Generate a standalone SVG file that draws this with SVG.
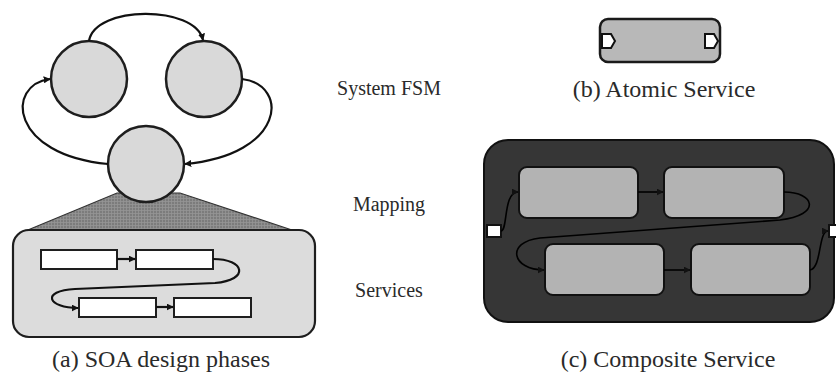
<svg xmlns="http://www.w3.org/2000/svg" width="836" height="379" viewBox="0 0 836 379">
  <style>
    .state { fill: #d9d9d9; stroke: #1e1e1e; stroke-width: 2.5; }
    .panel { fill: #dcdcdc; stroke: #1e1e1e; stroke-width: 2.2; }
    .svc { fill: #ffffff; stroke: #1e1e1e; stroke-width: 2; }
    .inner { fill: #b3b3b3; stroke: #111111; stroke-width: 2; }
    .atomic { fill: #b8b8b8; stroke: #1a1a1a; stroke-width: 2.5; }
    .port { fill: #ffffff; stroke: #111111; stroke-width: 2; }
    .edge { fill: none; stroke: #111111; stroke-width: 2.2; }
    .edge-thin { fill: none; stroke: #000000; stroke-width: 1.6; }
    .label { font-family: "Liberation Serif", "Times New Roman", serif; font-size: 20px; fill: #2a2a2a; text-anchor: middle; }
    .caption { font-family: "Liberation Serif", "Times New Roman", serif; font-size: 24px; fill: #2a2a2a; text-anchor: middle; }
  </style>
  <defs>
    <marker id="arrow" viewBox="0 0 10 10" refX="9" refY="5" markerWidth="7" markerHeight="7" markerUnits="userSpaceOnUse" orient="auto">
      <path d="M0,0 L10,5 L0,10 Z" fill="#111111"/>
    </marker>
    <pattern id="hatch" width="3" height="3" patternUnits="userSpaceOnUse">
      <rect width="3" height="3" fill="#7c7c7c"/>
      <path d="M0,0.5 H3 M0.5,0 V3" stroke="#959595" stroke-width="0.8"/>
    </pattern>
  </defs>

  <!-- mapping wedge between FSM state and services panel -->
  <g id="mapping-wedge">
    <polygon points="23,232 117,193 180,193 298,232" fill="url(#hatch)" stroke="#333333" stroke-width="1.2"/>
  </g>

  <!-- services panel -->
  <g id="services-panel">
    <rect class="panel" x="13" y="230" width="302" height="107" rx="16"/>
  </g>
  <g id="svc1"><rect class="svc" x="41" y="250" width="76" height="19"/></g>
  <g id="svc2"><rect class="svc" x="136" y="250" width="77" height="19"/></g>
  <g id="svc3"><rect class="svc" x="79" y="298" width="77" height="19"/></g>
  <g id="svc4"><rect class="svc" x="174" y="298" width="77" height="19"/></g>

  <!-- FSM states -->
  <g id="state-left"><circle class="state" cx="89" cy="79" r="38"/></g>
  <g id="state-right"><circle class="state" cx="204" cy="79" r="38"/></g>
  <g id="state-bottom"><circle class="state" cx="146" cy="164" r="38"/></g>

  <!-- atomic service -->
  <g id="atomic-service">
    <rect class="atomic" x="600" y="19" width="120" height="43" rx="8"/>
    <polygon class="port" points="602,34 611,34 615,41 611,48 602,48"/>
    <polygon class="port" points="705,34 714,34 718,41 714,48 705,48" stroke-width="2.5"/>
  </g>

  <!-- composite service -->
  <g id="composite-service">
    <rect x="484" y="140" width="350" height="182" rx="24" fill="#363636" stroke="#111111" stroke-width="2"/>
    <rect class="port" x="487" y="225" width="14" height="12" stroke-width="1"/>
    <rect class="port" x="829" y="225" width="12" height="12" stroke-width="1"/>
  </g>
  <g id="comp1"><rect class="inner" x="519" y="167" width="119" height="51" rx="8"/></g>
  <g id="comp2"><rect class="inner" x="664" y="167" width="120" height="51" rx="8"/></g>
  <g id="comp3"><rect class="inner" x="545" y="244" width="119" height="51" rx="8"/></g>
  <g id="comp4"><rect class="inner" x="691" y="244" width="119" height="51" rx="8"/></g>

  <!-- connectors -->
  <g id="connectors">
    <!-- FSM transitions -->
    <path class="edge" d="M89,41 C95,5 195,5 203,40" marker-end="url(#arrow)"/>
    <path class="edge" d="M108,164 C10,155 5,85 50,79" marker-end="url(#arrow)"/>
    <path class="edge" d="M242,79 C290,85 285,155 185,164" marker-end="url(#arrow)"/>
    <!-- service chain -->
    <path class="edge" d="M117,259 L135,259" marker-end="url(#arrow)"/>
    <path class="edge" d="M213,259 C245,259 250,280 215,283 L75,289 C40,291 48,308 78,308" marker-end="url(#arrow)"/>
    <path class="edge" d="M156,307 L173,307" marker-end="url(#arrow)"/>
    <!-- composite chain -->
    <path class="edge-thin" d="M501,231 C508,231 503,192 518,192" marker-end="url(#arrow)"/>
    <path class="edge-thin" d="M638,192 L663,192" marker-end="url(#arrow)"/>
    <path class="edge-thin" d="M784,192 C815,192 822,215 780,220 L540,238 C505,242 512,270 544,270" marker-end="url(#arrow)"/>
    <path class="edge-thin" d="M664,270 L690,270" marker-end="url(#arrow)"/>
    <path class="edge-thin" d="M810,270 C822,268 818,231 828,231" marker-end="url(#arrow)"/>
  </g>

  <!-- labels -->
  <g id="labels">
    <text class="label" x="389" y="95">System FSM</text>
    <text class="label" x="389" y="211">Mapping</text>
    <text class="label" x="389" y="297">Services</text>
    <text class="caption" x="664" y="97">(b) Atomic Service</text>
    <text class="caption" x="161" y="367">(a) SOA design phases</text>
    <text class="caption" x="668" y="367">(c) Composite Service</text>
  </g>
</svg>
